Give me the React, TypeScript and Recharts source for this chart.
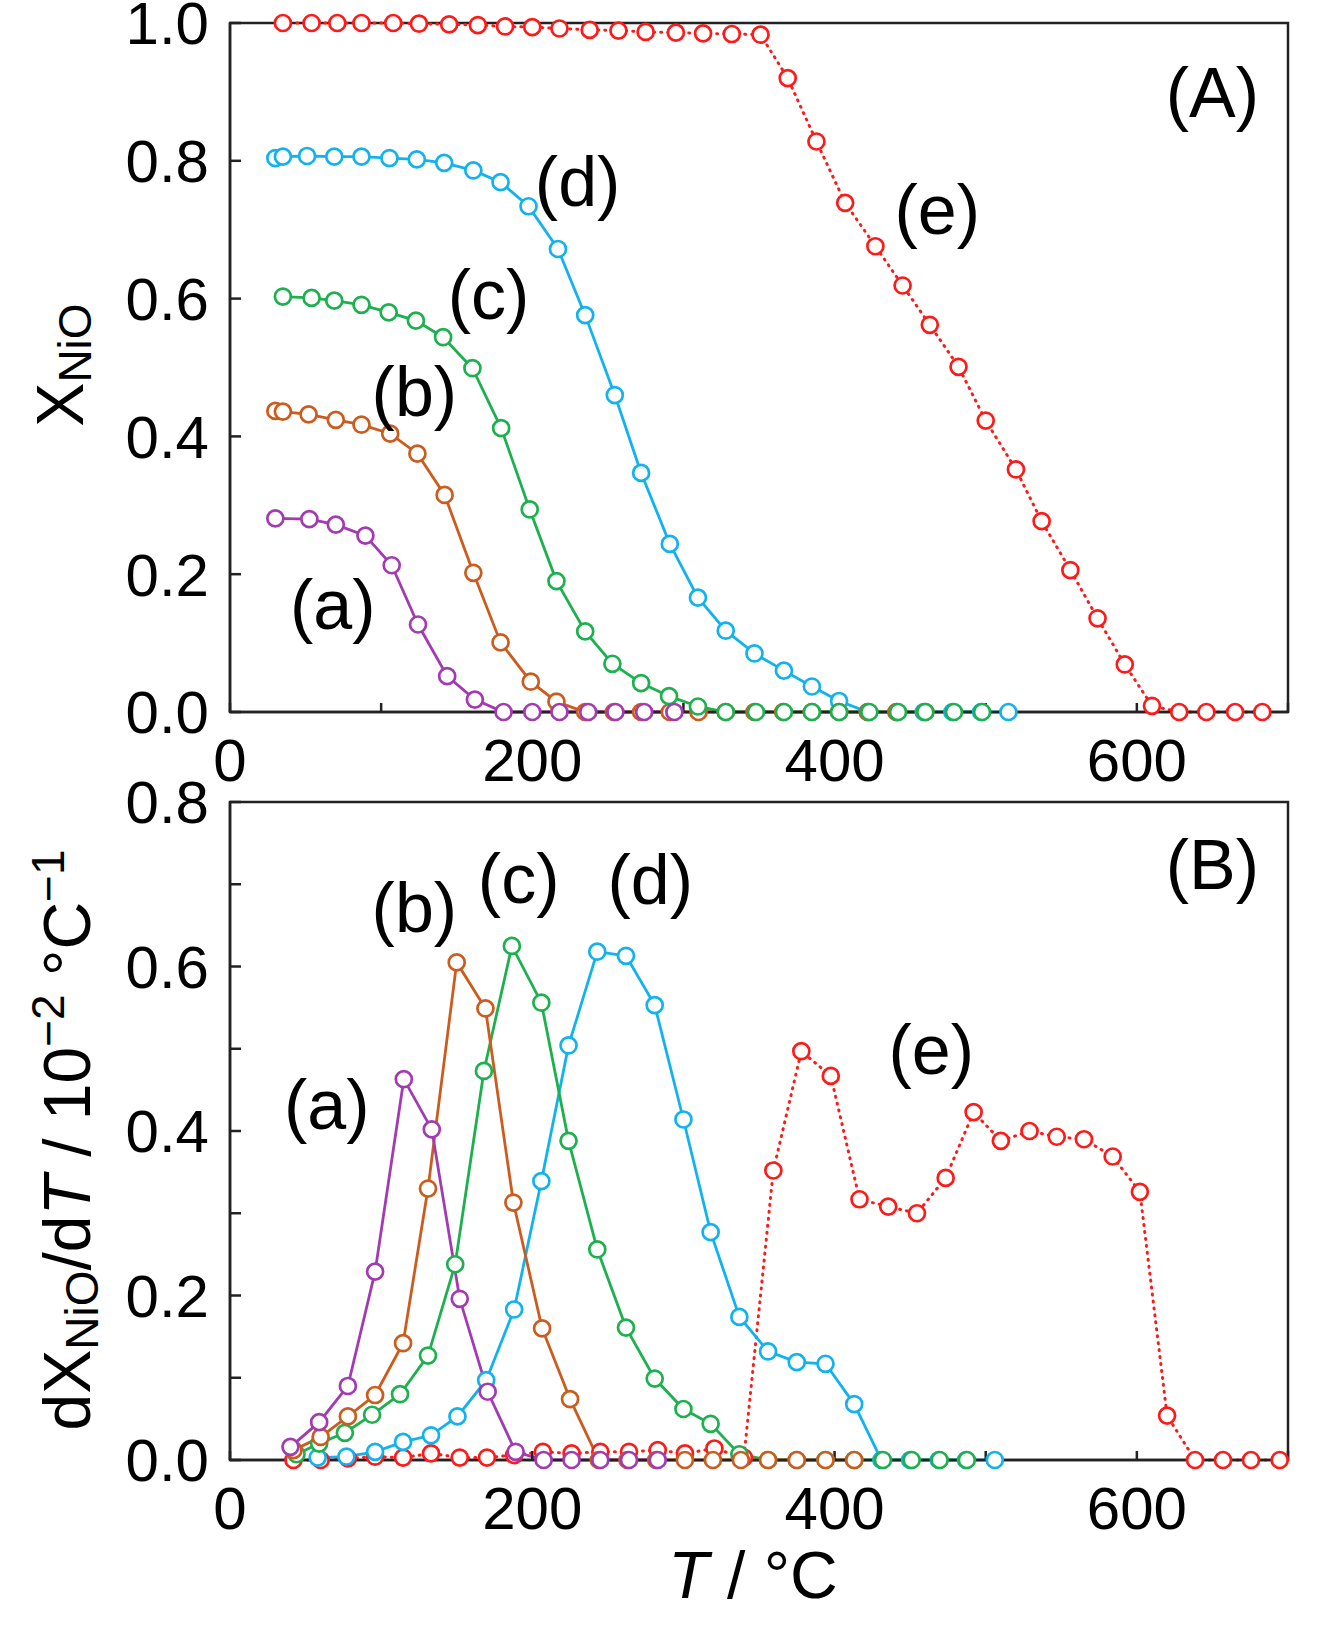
import { LineChart, Line, XAxis, YAxis, ReferenceArea, ReferenceDot, Label } from 'recharts';

const FONT = '"Liberation Sans", Arial, Helvetica, sans-serif';

const RED = '#FF1A1A';
const BLUE = '#12B2EE';
const GREEN = '#1DB04E';
const ORANGE = '#CC5C1E';
const PURPLE = '#A23BB2';

// ---- panel A : X_NiO vs T ----
const tA_e = [35, 54, 71, 87, 108, 125, 145, 164, 182, 200, 218, 238, 257, 275, 295, 313, 332, 351, 369, 388, 407, 427, 445, 463, 482, 500, 520, 537, 556, 574, 592, 610, 628, 646, 665, 683];
const xA_e = [1.0, 1.0, 1.0, 1.0, 1.0, 0.999, 0.998, 0.997, 0.995, 0.994, 0.992, 0.99, 0.989, 0.987, 0.986, 0.985, 0.984, 0.983, 0.92, 0.828, 0.739, 0.676, 0.619, 0.562, 0.501, 0.423, 0.352, 0.277, 0.206, 0.136, 0.069, 0.009, 0, 0, 0, 0];

const tA_d = [30, 35, 51, 69, 87, 105.5, 123.6, 141.7, 161, 179, 197.5, 217, 235, 254.6, 272, 291, 309.6, 328, 347, 366.5, 385, 403, 422, 441, 459, 478, 497, 515];
const xA_d = [0.804, 0.806, 0.807, 0.806, 0.806, 0.804, 0.802, 0.797, 0.786, 0.769, 0.734, 0.672, 0.576, 0.46, 0.347, 0.244, 0.166, 0.118, 0.085, 0.06, 0.037, 0.016, 0, 0, 0, 0, 0, 0];

const tA_c = [35, 54, 69, 87, 105, 123, 141, 160.4, 179.4, 198.3, 216, 235, 253, 272, 290.5, 309.6, 328, 348, 366.5, 385, 403, 423, 442, 460, 479, 497.6];
const xA_c = [0.603, 0.601, 0.597, 0.591, 0.58, 0.568, 0.544, 0.499, 0.412, 0.294, 0.19, 0.117, 0.07, 0.042, 0.023, 0.008, 0, 0, 0, 0, 0, 0, 0, 0, 0, 0];

const tA_b = [30, 35, 52, 70, 87, 106, 124, 142, 161, 179, 199, 216, 235, 254, 272, 291, 310, 328, 347, 366, 385, 403, 422, 441, 460];
const xA_b = [0.437, 0.436, 0.432, 0.424, 0.417, 0.404, 0.375, 0.315, 0.202, 0.101, 0.044, 0.015, 0, 0, 0, 0, 0, 0, 0, 0, 0, 0, 0, 0, 0];

const tA_a = [30, 52.5, 70, 89.6, 107, 124.4, 143.7, 162, 181, 200, 218, 237, 255, 274, 294];
const xA_a = [0.281, 0.28, 0.272, 0.256, 0.213, 0.127, 0.052, 0.018, 0, 0, 0, 0, 0, 0, 0];

// ---- panel B : dX_NiO/dT ----
const tB_e = [42, 60, 78, 96, 114.5, 133, 152, 170, 188, 207, 226, 245, 264, 283, 301, 320.5, 340, 359.5, 378, 397.5, 416.5, 435.5, 454.5, 473.5, 492, 510, 529, 547, 565, 584, 602, 620, 638.5, 657, 675.5, 694.5];
const dB_e = [0, 0, 0.002, 0.004, 0.003, 0.008, 0.003, 0.003, 0.006, 0.01, 0.008, 0.01, 0.01, 0.012, 0.008, 0.014, 0.003, 0.352, 0.497, 0.467, 0.317, 0.308, 0.3, 0.343, 0.423, 0.388, 0.4, 0.393, 0.39, 0.369, 0.326, 0.054, 0, 0, 0, 0];

const tB_d = [58, 77, 96, 114.5, 133, 150.5, 169.5, 188, 206, 224, 243, 262, 281, 300, 318, 337, 356, 375, 394, 413, 431, 450, 469, 487, 506];
const dB_d = [0.003, 0.004, 0.01, 0.022, 0.03, 0.053, 0.097, 0.183, 0.339, 0.504, 0.618, 0.613, 0.553, 0.414, 0.277, 0.174, 0.132, 0.119, 0.117, 0.068, 0, 0, 0, 0, 0];

const tB_c = [44, 59, 76, 94, 112.5, 131, 149, 168, 186.5, 206, 224, 243, 262, 281, 300, 318, 337, 356, 375, 394, 413, 432, 451, 469.5, 487.5];
const dB_c = [0.007, 0.02, 0.033, 0.055, 0.08, 0.127, 0.238, 0.473, 0.625, 0.556, 0.388, 0.256, 0.161, 0.099, 0.062, 0.044, 0.007, 0, 0, 0, 0, 0, 0, 0, 0];

const tB_b = [42, 60, 78, 96, 114.5, 131, 150, 169, 187.5, 206.5, 225, 244, 263, 282, 301, 319.5, 338, 356, 375, 394, 413];
const dB_b = [0.012, 0.028, 0.053, 0.079, 0.142, 0.33, 0.605, 0.549, 0.313, 0.16, 0.074, 0, 0, 0, 0, 0, 0, 0, 0, 0, 0];

const tB_a = [40, 59, 78, 96, 115, 133.5, 152, 170.5, 189, 207.5, 226, 245, 264, 283];
const dB_a = [0.016, 0.046, 0.09, 0.229, 0.463, 0.402, 0.196, 0.083, 0.01, 0, 0, 0, 0, 0];

const xTicks = [0, 100, 200, 300, 400, 500, 600, 700];
const yTicksA = [0, 0.2, 0.4, 0.6, 0.8, 1.0];
const yTicksB = [0, 0.1, 0.2, 0.3, 0.4, 0.5, 0.6, 0.7, 0.8];

const zip = (t: number[], v: number[]) => t.map((T, i) => ({ T, v: v[i] }));

type Series = { name: string; color: string; dotted?: boolean; data: { T: number; v: number }[] };

// drawing order (last on top) follows the original figure
const seriesA: Series[] = [
  { name: 'e', color: RED, dotted: true, data: zip(tA_e, xA_e) },
  { name: 'd', color: BLUE, data: zip(tA_d, xA_d) },
  { name: 'b', color: ORANGE, data: zip(tA_b, xA_b) },
  { name: 'c', color: GREEN, data: zip(tA_c, xA_c) },
  { name: 'a', color: PURPLE, data: zip(tA_a, xA_a) },
];

const seriesB: Series[] = [
  { name: 'e', color: RED, dotted: true, data: zip(tB_e, dB_e) },
  { name: 'd', color: BLUE, data: zip(tB_d, dB_d) },
  { name: 'c', color: GREEN, data: zip(tB_c, dB_c) },
  { name: 'b', color: ORANGE, data: zip(tB_b, dB_b) },
  { name: 'a', color: PURPLE, data: zip(tB_a, dB_a) },
];

const labelsA = [
  { text: '(A)', T: 650, y: 0.9 },
  { text: '(a)', T: 68, y: 0.157 },
  { text: '(b)', T: 122, y: 0.466 },
  { text: '(c)', T: 171, y: 0.607 },
  { text: '(d)', T: 230, y: 0.771 },
  { text: '(e)', T: 468, y: 0.73 },
];

const labelsB = [
  { text: '(B)', T: 650, y: 0.725 },
  { text: '(a)', T: 64, y: 0.433 },
  { text: '(b)', T: 122, y: 0.672 },
  { text: '(c)', T: 191, y: 0.708 },
  { text: '(d)', T: 278, y: 0.706 },
  { text: '(e)', T: 464, y: 0.5 },
];

const AXIS = '#222';
const tickStyle = { fontSize: 60, fill: '#000', fontFamily: FONT };

const fmtX = (v: number) => (v % 200 === 0 && v < 700 ? String(v) : '');

function renderLines(series: Series[]) {
  return series.map((s) => (
    <Line
      key={s.name}
      data={s.data}
      dataKey="v"
      type="linear"
      stroke={s.color}
      strokeWidth={s.dotted ? 3 : 2.8}
      strokeDasharray={s.dotted ? '1 6' : undefined}
      strokeLinecap={s.dotted ? 'round' : 'butt'}
      dot={{ r: 8, stroke: s.color, strokeWidth: 2.7, fill: '#fff', strokeDasharray: 'none' }}
      activeDot={false}
      isAnimationActive={false}
    />
  ));
}

function renderLabels(labels: { text: string; T: number; y: number }[]) {
  return labels.map((l) => (
    <ReferenceDot
      key={l.text}
      x={l.T}
      y={l.y}
      r={0}
      fill="none"
      stroke="none"
      label={{ value: l.text, position: 'center', fontSize: 70, fill: '#000', fontFamily: FONT }}
    />
  ));
}

const titleA = () => (
  <text x={83} y={365} transform="rotate(-90 83 365)" textAnchor="middle" fontSize={66} fontFamily={FONT} fill="#000">
    <tspan>X</tspan>
    <tspan fontSize={46} dy={8}>NiO</tspan>
  </text>
);

// chart B svg starts at page y = 740
const titleB = () => (
  <text x={90} y={400} transform="rotate(-90 90 400)" textAnchor="middle" fontSize={66} fontFamily={FONT} fill="#000">
    <tspan>dX</tspan>
    <tspan fontSize={46} dy={8}>NiO</tspan>
    <tspan dy={-8}>/d</tspan>
    <tspan fontStyle="italic">T</tspan>
    <tspan> / 10</tspan>
    <tspan fontSize={46} dy={-26}>−2</tspan>
    <tspan dy={26}> °C</tspan>
    <tspan fontSize={46} dy={-26}>−1</tspan>
  </text>
);

const titleX = () => (
  <text x={753} y={858} textAnchor="middle" fontSize={66} fontFamily={FONT} fill="#000">
    <tspan fontStyle="italic">T</tspan>
    <tspan> / °C</tspan>
  </text>
);

export default function App() {
  return (
    <div style={{ position: 'absolute', left: 0, top: 0, width: 1328, height: 1640, background: '#fff' }}>
      <div style={{ position: 'absolute', left: 0, top: 0 }}>
        <LineChart width={1328} height={800} margin={{ top: 23, right: 40, bottom: 8, left: 150 }} style={{ overflow: 'visible' }}>
          <XAxis
            type="number"
            dataKey="T"
            domain={[0, 700]}
            ticks={xTicks}
            interval={0}
            tickFormatter={fmtX}
            tickSize={-9}
            tickMargin={35}
            height={80}
            stroke={AXIS}
            strokeWidth={2.5}
            tick={tickStyle}
          />
          <YAxis
            type="number"
            domain={[0, 1]}
            ticks={yTicksA}
            interval={0}
            tickFormatter={(v: number) => v.toFixed(1)}
            tickSize={-11}
            tickMargin={32}
            width={80}
            stroke={AXIS}
            strokeWidth={2.5}
            tick={tickStyle}
          >
            <Label content={titleA} />
          </YAxis>
          <ReferenceArea x1={0} x2={700} y1={0} y2={1} fill="none" fillOpacity={0} stroke={AXIS} strokeWidth={2.5} />
          {renderLabels(labelsA)}
          {renderLines(seriesA)}
        </LineChart>
      </div>
      <div style={{ position: 'absolute', left: 0, top: 740 }}>
        <LineChart width={1328} height={900} margin={{ top: 62, right: 40, bottom: 100, left: 150 }}>
          <XAxis
            type="number"
            dataKey="T"
            domain={[0, 700]}
            ticks={xTicks}
            interval={0}
            tickFormatter={fmtX}
            tickSize={-9}
            tickMargin={35}
            height={80}
            stroke={AXIS}
            strokeWidth={2.5}
            tick={tickStyle}
          >
            <Label content={titleX} />
          </XAxis>
          <YAxis
            type="number"
            domain={[0, 0.8]}
            ticks={yTicksB}
            interval={0}
            tickFormatter={(v: number) => (Math.round(v * 10) % 2 === 0 ? v.toFixed(1) : '')}
            tickSize={-11}
            tickMargin={32}
            width={80}
            stroke={AXIS}
            strokeWidth={2.5}
            tick={tickStyle}
          >
            <Label content={titleB} />
          </YAxis>
          <ReferenceArea x1={0} x2={700} y1={0} y2={0.8} fill="none" fillOpacity={0} stroke={AXIS} strokeWidth={2.5} />
          {renderLabels(labelsB)}
          {renderLines(seriesB)}
        </LineChart>
      </div>
    </div>
  );
}
